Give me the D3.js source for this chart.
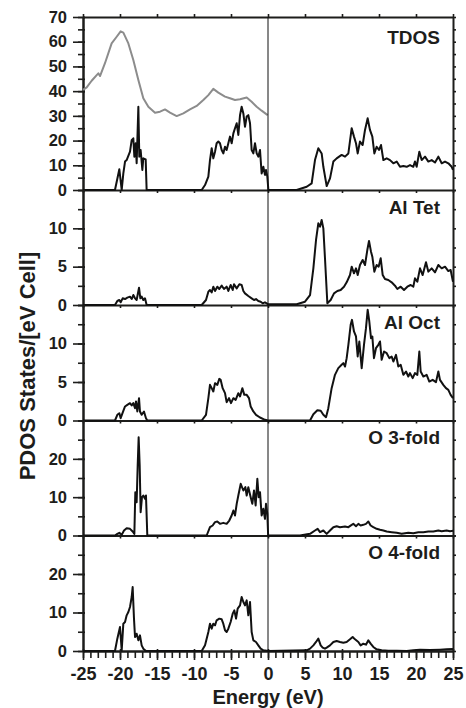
<!DOCTYPE html>
<html>
<head>
<meta charset="utf-8">
<script src="https://cdn.jsdelivr.net/npm/d3@7"></script>
<style>
body { margin: 0; background: #fff; }
svg text { font-family: "Liberation Sans", Arial, sans-serif; font-weight: bold; fill: #1d1d1b; }
</style>
</head>
<body>
<div id="chart-area"></div>
<script>
// panels, top to bottom
var panelNames = ["TDOS", "Al Tet", "Al Oct", "O 3-fold", "O 4-fold"];
var panelMax = [70, 15, 15, 30, 30];
var panelLabels = [[0, 10, 20, 30, 40, 50, 60, 70], [0, 5, 10], [0, 5, 10], [0, 10, 20], [0, 10, 20]];
var panelMinor = [5, 2.5, 2.5, 5, 5];
var energyTicks = [-25, -20, -15, -10, -5, 0, 5, 10, 15, 20, 25];

// [energy eV, states]
var tdosGray = [[-25.0,40.5],[-24.5,41.5],[-23.83,44.2],[-23.15,46.5],[-22.93,47.2],[-22.7,46.1],[-22.03,51.3],[-21.13,59.3],[-20.45,62.0],[-19.91,64.2],[-19.55,63.7],[-18.87,59.3],[-18.2,52.6],[-17.52,44.5],[-16.85,37.1],[-16.17,33.7],[-15.27,31.3],[-14.59,31.7],[-13.92,32.6],[-13.24,31.3],[-12.34,29.9],[-11.44,31.0],[-10.54,32.6],[-9.64,34.0],[-8.74,36.4],[-8.06,38.4],[-7.39,40.9],[-6.71,39.4],[-5.81,37.8],[-5.14,37.1],[-4.46,36.4],[-3.78,36.7],[-2.88,37.4],[-2.21,35.7],[-1.53,33.7],[-0.86,32.1],[-0.05,30.3]];

var tdos = [[-25,0],[-20.68,0],[-20.09,8.4],[-19.77,0],[-19.55,6.7],[-19.32,11.5],[-19.1,12.1],[-18.65,15.5],[-18.42,20.2],[-18.2,20.9],[-18.06,13.5],[-17.88,18.9],[-17.75,10.8],[-17.52,33.7],[-17.39,13.5],[-17.21,16.2],[-16.98,8.1],[-16.85,12.8],[-16.53,12.4],[-16.4,0],[-8.96,0],[-8.51,2.0],[-8.06,5.4],[-7.84,12.1],[-7.61,16.9],[-7.39,12.8],[-7.16,15.5],[-6.94,18.9],[-6.71,19.6],[-6.49,18.9],[-6.26,16.2],[-6.04,14.8],[-5.81,17.5],[-5.59,16.2],[-5.36,18.9],[-5.14,21.6],[-4.91,18.9],[-4.68,22.9],[-4.46,25.0],[-4.23,27.0],[-4.01,22.3],[-3.78,30.3],[-3.56,33.7],[-3.33,31.0],[-3.11,25.6],[-2.88,29.7],[-2.66,30.3],[-2.43,27.0],[-2.21,16.2],[-1.98,14.8],[-1.76,18.9],[-1.53,14.8],[-1.31,13.5],[-1.08,16.2],[-0.86,6.7],[-0.63,9.4],[-0.41,6.1],[-0.27,8.1],[-0.09,5.4],[0.05,0],[3.87,0],[5.23,1.3],[5.9,2.7],[6.35,12.1],[6.8,16.9],[7.25,14.8],[7.48,9.4],[7.93,1.6],[8.38,4.7],[8.83,11.5],[9.28,12.8],[9.95,14.2],[10.41,13.5],[10.86,14.8],[11.31,25.0],[11.62,21.6],[11.89,18.9],[12.12,14.8],[12.43,19.6],[12.79,18.2],[13.11,24.3],[13.47,29.0],[13.78,24.3],[14.1,21.6],[14.37,14.8],[14.68,17.5],[15.0,16.2],[15.27,18.2],[15.59,12.1],[16.04,12.8],[16.49,12.1],[16.94,10.8],[17.39,11.5],[17.84,9.4],[18.29,9.7],[18.74,9.4],[19.19,10.1],[19.64,9.4],[19.86,11.5],[20.09,9.4],[20.45,15.5],[20.77,12.1],[21.22,13.5],[21.67,11.5],[22.12,12.1],[22.57,11.1],[23.02,13.5],[23.47,10.8],[23.92,11.5],[24.37,10.8],[24.82,9.4],[25.0,8.1]];

var alTet = [[-25,0],[-20.68,0],[-20.36,0.52],[-20.09,0.65],[-19.91,0.35],[-19.64,0.87],[-19.32,0.78],[-19.01,0.96],[-18.65,1.09],[-18.42,0.78],[-18.2,1.3],[-17.97,0.87],[-17.75,0.65],[-17.43,2.26],[-17.25,0.87],[-17.07,1.09],[-16.85,0.65],[-16.62,0.87],[-16.4,0],[-8.96,0],[-8.38,0.65],[-8.06,1.74],[-7.84,1.96],[-7.61,1.65],[-7.39,2.39],[-7.16,1.83],[-6.85,2.39],[-6.58,2.09],[-6.26,2.52],[-5.95,2.09],[-5.59,2.39],[-5.36,1.83],[-5.05,2.61],[-4.77,1.96],[-4.59,2.7],[-4.23,2.17],[-3.87,2.7],[-3.56,2.61],[-3.33,1.83],[-3.11,1.52],[-2.66,1.17],[-2.21,0.87],[-1.89,0.65],[-1.62,0.78],[-1.31,0.52],[-0.99,0.43],[-0.72,0.22],[-0.41,0.35],[0.05,0.09],[3.87,0.09],[5.0,0.43],[5.68,1.3],[6.13,4.78],[6.49,8.48],[6.8,10.65],[7.03,10.22],[7.25,11.09],[7.48,10.0],[7.7,6.09],[8.02,0.22],[8.47,0.65],[8.92,1.52],[9.37,1.83],[9.82,1.96],[10.27,2.39],[10.63,2.96],[11.08,3.91],[11.31,5.0],[11.62,4.13],[11.89,4.78],[12.12,3.91],[12.43,5.22],[12.79,5.87],[13.11,5.22],[13.42,7.17],[13.65,8.35],[13.92,6.96],[14.1,6.3],[14.37,4.35],[14.68,5.22],[14.95,5.0],[15.23,6.09],[15.5,3.91],[15.81,3.39],[16.26,3.26],[16.71,2.96],[17.16,2.52],[17.48,2.09],[17.93,2.39],[18.38,1.96],[18.83,2.39],[19.28,2.61],[19.64,2.39],[19.86,3.48],[20.18,3.04],[20.54,4.78],[20.9,3.91],[21.35,5.57],[21.67,4.35],[22.12,4.78],[22.57,4.26],[23.02,5.22],[23.47,4.78],[23.92,5.0],[24.37,4.43],[24.68,4.57],[25.0,3.04]];

var alOct = [[-25,0],[-20.68,0],[-20.36,0.74],[-20.09,0.95],[-19.91,0.3],[-19.55,1.26],[-19.32,1.82],[-19.01,2.03],[-18.65,2.25],[-18.42,1.95],[-18.2,2.25],[-17.97,1.6],[-17.84,2.47],[-17.66,1.17],[-17.43,2.9],[-17.3,1.17],[-17.07,0.74],[-16.76,1.17],[-16.49,0.3],[-16.31,0],[-8.96,0],[-8.38,0.74],[-8.06,2.9],[-7.84,4.63],[-7.61,4.2],[-7.39,3.77],[-7.16,4.85],[-6.85,4.63],[-6.58,5.41],[-6.4,5.28],[-6.13,4.2],[-5.81,3.55],[-5.59,2.38],[-5.27,2.9],[-5.0,2.25],[-4.68,2.9],[-4.37,2.68],[-4.01,3.55],[-3.78,3.12],[-3.47,4.2],[-3.2,3.33],[-2.88,3.33],[-2.57,2.9],[-2.34,1.82],[-1.98,1.17],[-1.62,0.74],[-1.08,0.39],[-0.41,0.09],[0,0],[5.68,0],[6.13,0.82],[6.67,1.34],[7.12,1.26],[7.48,0.74],[7.84,0.43],[8.15,1.6],[8.6,4.2],[9.05,5.93],[9.5,6.8],[9.95,7.23],[10.18,7.45],[10.41,7.01],[10.63,8.1],[10.86,9.83],[11.17,12.42],[11.35,13.07],[11.62,11.56],[11.89,10.91],[12.12,8.31],[12.34,10.26],[12.66,6.8],[12.97,9.83],[13.24,11.99],[13.47,14.37],[13.69,12.86],[13.92,10.69],[14.1,10.91],[14.32,8.1],[14.59,9.39],[14.91,9.83],[15.14,10.26],[15.36,7.88],[15.68,8.96],[16.04,8.74],[16.4,8.1],[16.71,8.31],[16.94,7.66],[17.3,8.53],[17.61,7.01],[17.93,7.23],[18.29,5.93],[18.65,6.36],[18.96,5.71],[19.19,6.15],[19.55,5.5],[19.86,6.15],[20.18,5.93],[20.45,8.96],[20.63,6.36],[20.99,5.71],[21.44,5.93],[21.8,5.06],[22.25,5.28],[22.7,4.98],[23.02,6.36],[23.24,5.28],[23.69,4.63],[24.05,4.2],[24.37,3.98],[24.68,3.33],[25.0,2.9]];

var o3fold = [[-25,0],[-20.68,0],[-20.36,0.43],[-20.09,0.7],[-19.77,0.17],[-19.46,1.3],[-19.1,1.91],[-18.65,1.74],[-18.29,1.04],[-18.06,0.43],[-17.93,11.3],[-17.75,8.7],[-17.61,18.26],[-17.48,25.65],[-17.34,18.26],[-17.21,6.09],[-17.03,10.0],[-16.85,10.43],[-16.62,9.57],[-16.49,10.43],[-16.31,0],[-8.29,0],[-7.84,2.17],[-7.48,2.61],[-7.16,3.48],[-6.85,3.65],[-6.49,3.04],[-6.04,3.3],[-5.59,3.04],[-5.23,3.91],[-4.91,5.22],[-4.68,6.52],[-4.46,5.22],[-4.23,8.26],[-4.01,10.43],[-3.69,13.48],[-3.33,11.74],[-3.06,12.61],[-2.88,10.43],[-2.66,12.61],[-2.34,10.0],[-2.12,8.26],[-1.89,11.74],[-1.67,7.83],[-1.44,14.78],[-1.26,10.0],[-1.08,11.3],[-0.86,5.22],[-0.63,6.96],[-0.41,4.35],[-0.27,8.26],[-0.09,5.65],[0.02,0],[4.32,0],[5.68,0.43],[6.35,1.3],[6.71,1.74],[7.03,0.87],[7.48,1.3],[7.93,0.43],[8.38,1.3],[8.83,2.17],[9.28,2.43],[9.73,2.17],[10.41,2.35],[10.86,2.17],[11.31,2.78],[11.53,3.04],[11.89,2.43],[12.21,3.04],[12.52,2.61],[12.88,2.78],[13.24,3.04],[13.56,3.65],[13.87,2.61],[14.23,2.17],[14.68,1.74],[15.14,1.48],[15.59,1.3],[16.04,1.04],[16.71,0.87],[17.39,0.7],[18.06,0.43],[18.96,0.7],[19.64,0.61],[20.32,0.87],[20.99,0.87],[21.67,1.04],[22.34,1.04],[23.02,1.3],[23.47,1.13],[24.14,1.3],[24.59,1.13],[25.0,1.22]];

var o4fold = [[-25,0],[-20.68,0],[-20.36,3.2],[-20.0,6.23],[-19.77,0.17],[-19.55,7.1],[-19.32,7.53],[-19.1,9.26],[-18.87,10.13],[-18.65,11.43],[-18.42,14.03],[-18.29,16.62],[-18.11,8.4],[-17.97,3.64],[-17.75,4.5],[-17.52,2.77],[-17.3,4.07],[-17.07,1.47],[-16.85,0.61],[-16.49,0],[-8.96,0],[-8.51,1.47],[-8.06,4.94],[-7.84,7.1],[-7.61,5.8],[-7.39,7.1],[-7.16,6.67],[-6.94,7.97],[-6.58,8.4],[-6.26,8.23],[-6.04,7.1],[-5.81,5.37],[-5.59,4.94],[-5.36,5.8],[-5.05,7.53],[-4.77,9.7],[-4.55,10.56],[-4.32,8.4],[-4.1,11.0],[-3.78,11.86],[-3.56,14.03],[-3.33,12.73],[-3.11,11.86],[-2.88,13.16],[-2.66,9.26],[-2.43,12.73],[-2.21,4.94],[-1.98,2.77],[-1.62,2.34],[-1.31,1.47],[-0.99,0.61],[-0.63,0.17],[0.05,0],[5.23,0.17],[5.68,0.61],[6.13,1.47],[6.49,2.34],[6.8,3.2],[7.12,1.47],[7.39,0.87],[7.7,0.61],[7.93,0.87],[8.38,1.47],[8.83,2.34],[9.28,2.6],[9.73,2.34],[10.18,2.16],[10.63,2.34],[11.08,3.03],[11.44,3.64],[11.76,3.03],[12.21,2.34],[12.52,1.47],[12.88,1.9],[13.24,1.65],[13.56,2.77],[13.87,1.9],[14.23,1.04],[14.68,0.43],[15.36,0.17],[16.26,0.09],[17.39,0.09],[18.74,0],[19.64,0.17],[20.54,0.35],[21.89,0.26],[23.24,0.35],[24.14,0.43],[25.0,0.52]];

var series = [tdos, alTet, alOct, o3fold, o4fold];

// layout
var width = 466, height = 708;
var left = 83, right = 453;
var panelTop = [17, 190, 305, 420.5, 535.5];
var panelBottom = [190, 305, 420.5, 535.5, 651];
var labelDy = [27, 24, 24, 23, 23];

var svg = d3.select('#chart-area').append('svg')
    .attr('width', width)
    .attr('height', height);

var x = d3.scaleLinear().domain([-25, 25]).range([left, right]);

function styleAxis(g, fontSize) {
    g.attr('font-family', null).attr('font-size', fontSize);
    g.select('.domain').attr('stroke', '#1d1d1b').attr('stroke-width', 2);
    g.selectAll('.tick line').attr('stroke', '#1d1d1b').attr('stroke-width', 1.6);
    g.selectAll('.tick text').attr('fill', '#1d1d1b');
}

panelNames.forEach(function (name, i) {
    var y = d3.scaleLinear().domain([0, panelMax[i]]).range([panelBottom[i], panelTop[i]]);
    var minorVals = d3.range(0, panelMax[i] + 0.001, panelMinor[i]);
    var labelled = panelLabels[i];

    // left minor ticks
    var lm = svg.append('g').attr('transform', 'translate(' + left + ',0)')
        .call(d3.axisLeft(y).tickValues(minorVals).tickSize(5).tickSizeOuter(0).tickFormat(''));
    styleAxis(lm, 16);
    lm.selectAll('.tick line').attr('x1', 2);

    // left major ticks with labels
    var lg = svg.append('g').attr('transform', 'translate(' + left + ',0)')
        .call(d3.axisLeft(y).tickValues(labelled).tickSize(10).tickPadding(6).tickSizeOuter(0)
            .tickFormat(function (d) { return String(d); }));
    styleAxis(lg, 16.5);
    lg.selectAll('.tick line').attr('x1', 2);

    // right side small ticks
    var rg = svg.append('g').attr('transform', 'translate(' + right + ',0)')
        .call(d3.axisRight(y).tickValues(minorVals).tickSize(3).tickSizeOuter(0).tickFormat(''));
    styleAxis(rg, 10);

    // bottom line of the panel
    var last = i === panelNames.length - 1;
    var bg = svg.append('g').attr('transform', 'translate(0,' + panelBottom[i] + ')');
    if (last) {
        var minorX = d3.range(-25, 25.001, 1);
        bg.call(d3.axisBottom(x).tickValues(minorX).tickSize(7).tickSizeOuter(0).tickFormat(''));
        styleAxis(bg, 10);
        var bm = svg.append('g').attr('transform', 'translate(0,' + panelBottom[i] + ')')
            .call(d3.axisBottom(x).tickValues(energyTicks).tickSize(9).tickPadding(7).tickSizeOuter(0)
                .tickFormat(function (d) { return String(d); }));
        styleAxis(bm, 18);
        bm.selectAll('.tick line').attr('y1', -2);
    } else {
        bg.call(d3.axisBottom(x).tickValues(energyTicks).tickSize(3).tickSizeOuter(0).tickFormat(''));
        styleAxis(bg, 10);
    }

    if (i === 0) {
        var tg = svg.append('g').attr('transform', 'translate(0,' + panelTop[0] + ')')
            .call(d3.axisTop(x).tickValues(energyTicks).tickSize(3).tickSizeOuter(0).tickFormat(''));
        styleAxis(tg, 10);
        svg.append('path')
            .datum(tdosGray)
            .attr('fill', 'none')
            .attr('stroke', '#8c8c8c')
            .attr('stroke-width', 2)
            .attr('stroke-linejoin', 'round')
            .attr('d', d3.line().x(function (d) { return x(d[0]); }).y(function (d) { return y(d[1]); }));
    }

    svg.append('path')
        .datum(series[i])
        .attr('fill', 'none')
        .attr('stroke', '#111')
        .attr('stroke-width', 2)
        .attr('stroke-linejoin', 'round')
        .attr('d', d3.line().x(function (d) { return x(d[0]); }).y(function (d) { return y(d[1]); }));

    svg.append('text')
        .attr('x', 440)
        .attr('y', panelTop[i] + labelDy[i])
        .attr('text-anchor', 'end')
        .attr('font-size', 19)
        .text(name);
});

// Fermi level line
svg.append('line')
    .attr('x1', x(0)).attr('x2', x(0))
    .attr('y1', panelTop[0]).attr('y2', panelBottom[4])
    .attr('stroke', '#111')
    .attr('stroke-width', 1);

svg.append('text')
    .attr('x', x(0))
    .attr('y', 704)
    .attr('text-anchor', 'middle')
    .attr('font-size', 20)
    .text('Energy (eV)');

svg.append('text')
    .attr('transform', 'translate(35,366) rotate(-90)')
    .attr('text-anchor', 'middle')
    .attr('font-size', 22)
    .text('PDOS States/[eV Cell]');
</script>
</body>
</html>
